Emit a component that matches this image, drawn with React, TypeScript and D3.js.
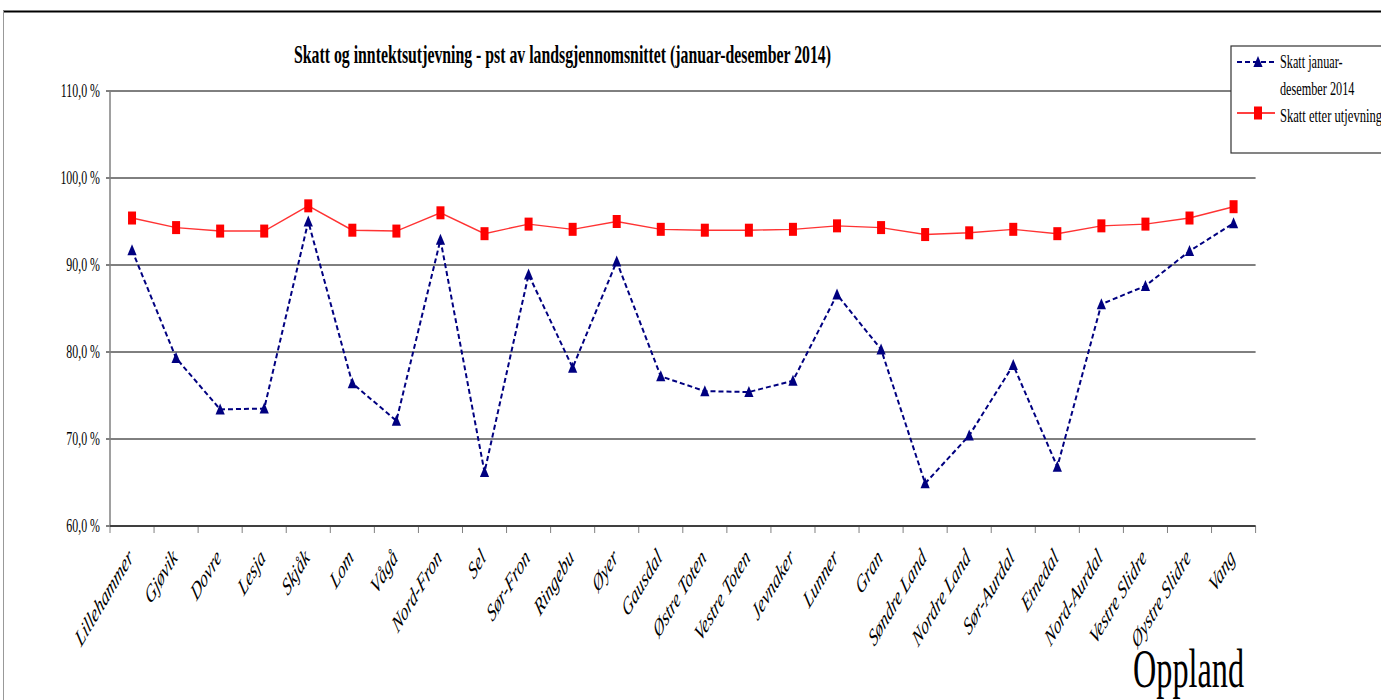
import React from "react";
import * as d3 from "d3";

const categories = [
  "Lillehammer", "Gjøvik", "Dovre", "Lesja", "Skjåk", "Lom", "Vågå", "Nord-Fron", "Sel",
  "Sør-Fron", "Ringebu", "Øyer", "Gausdal", "Østre Toten", "Vestre Toten", "Jevnaker",
  "Lunner", "Gran", "Søndre Land", "Nordre Land", "Sør-Aurdal", "Etnedal", "Nord-Aurdal",
  "Vestre Slidre", "Øystre Slidre", "Vang",
];
const skattJanDes = [
  91.7, 79.3, 73.4, 73.5, 95.0, 76.4, 72.1, 92.9, 66.2, 88.9, 78.2, 90.4, 77.2, 75.5, 75.4,
  76.7, 86.6, 80.3, 64.9, 70.4, 78.5, 66.8, 85.5, 87.6, 91.6, 94.8,
];
const skattEtter = [
  95.4, 94.3, 93.9, 93.9, 96.8, 94.0, 93.9, 96.0, 93.6, 94.7, 94.1, 95.0, 94.1, 94.0, 94.0,
  94.1, 94.5, 94.3, 93.5, 93.7, 94.1, 93.6, 94.5, 94.7, 95.4, 96.7,
];
const yTicks = [60, 70, 80, 90, 100, 110];
const seriesNames = ["Skatt januar-", "desember 2014", "Skatt etter utjevning"];
const titleText = "Skatt og inntektsutjevning - pst av landsgjennomsnittet (januar-desember 2014)";
const regionText = "Oppland";

const W = 1381, H = 700;
const left = 110, right = 1255.6, top = 91, bottom = 526;
const serif = "Liberation Serif, Times New Roman, serif";
const blue = "#000080";
const red = "#FF0000";

export default function App() {
  const x = d3.scaleBand<string>().domain(categories).range([left, right]).padding(0);
  const y = d3.scaleLinear().domain([60, 110]).range([bottom, top]);
  const cx = (c: string) => (x(c) as number) + x.bandwidth() / 2;

  const line = d3.line<number>().x((_, i) => cx(categories[i])).y((v) => y(v));
  const fmt = (v: number) => d3.format(".1f")(v).replace(".", ",") + " %";
  const tri = (px: number, py: number) =>
    `M${px},${py - 6}L${px + 4.6},${py + 5}L${px - 4.6},${py + 5}Z`;
  const boundaries = d3.range(categories.length + 1).map((i) => left + i * x.bandwidth());

  return (
    <svg width={W} height={H} style={{ position: "absolute", left: 0, top: 0, background: "#fff" }}
      fontFamily={serif}>
      {/* outer frame */}
      <line x1={3} x2={W} y1={11.5} y2={11.5} stroke="#000" strokeWidth={2} />
      <line x1={3.5} x2={3.5} y1={11} y2={H} stroke="#999" strokeWidth={1} />

      {/* title */}
      <text x={294} y={63} fontSize={26} fontWeight="bold" textLength={537}
        lengthAdjust="spacingAndGlyphs">{titleText}</text>

      {/* gridlines */}
      {yTicks.map((t) => (
        <line key={t} x1={106} x2={right} y1={y(t)} y2={y(t)} stroke="#000" strokeWidth={1} />
      ))}
      {/* y axis */}
      <line x1={left} x2={left} y1={top} y2={bottom} stroke="#808080" strokeWidth={1.5} />
      {yTicks.map((t) => (
        <text key={t} transform={`translate(100,${y(t) + 6}) scale(0.66,1)`} textAnchor="end"
          fontSize={18} fill="#000">{fmt(t)}</text>
      ))}
      {/* x axis ticks */}
      {boundaries.map((b, i) => (
        <line key={i} x1={b} x2={b} y1={bottom} y2={bottom + 7} stroke="#808080" strokeWidth={1} />
      ))}
      <line x1={left} x2={right} y1={bottom} y2={bottom} stroke="#000" strokeWidth={1.2} />
      {categories.map((c) => (
        <text key={c} transform={`translate(${cx(c) + 2},559) scale(0.6,1) rotate(-45)`}
          textAnchor="end" fontSize={24.5} fontStyle="italic" fill="#000">{c}</text>
      ))}

      {/* red series */}
      <path d={line(skattEtter) as string} fill="none" stroke={red} strokeOpacity={0.8} strokeWidth={1.4} />
      {skattEtter.map((v, i) => (
        <rect key={i} x={cx(categories[i]) - 4} y={y(v) - 6.5} width={8} height={13} fill={red} />
      ))}
      {/* blue series */}
      <path d={line(skattJanDes) as string} fill="none" stroke={blue} strokeWidth={2}
        strokeDasharray="5,3" />
      {skattJanDes.map((v, i) => (
        <path key={i} d={tri(cx(categories[i]), y(v))} fill={blue} />
      ))}

      {/* legend */}
      <rect x={1231} y={46} width={170} height={107} fill="#fff" stroke="#333" strokeWidth={1.2} />
      <line x1={1237} x2={1275} y1={62} y2={62} stroke={blue} strokeWidth={2} strokeDasharray="5,3" />
      <path d={tri(1258, 62)} fill={blue} />
      <text transform="translate(1280,68) scale(0.68,1)" fontSize={18}>{seriesNames[0]}</text>
      <text transform="translate(1280,95) scale(0.68,1)" fontSize={18}>{seriesNames[1]}</text>
      <line x1={1237} x2={1275} y1={113} y2={113} stroke={red} strokeWidth={1.4} />
      <rect x={1254} y={106.5} width={8} height={13} fill={red} />
      <text transform="translate(1280,122) scale(0.7,1)" fontSize={18}>{seriesNames[2]}</text>

      {/* region label */}
      <text x={1133} y={687} fontSize={54} textLength={111} lengthAdjust="spacingAndGlyphs">
        {regionText}
      </text>
    </svg>
  );
}
